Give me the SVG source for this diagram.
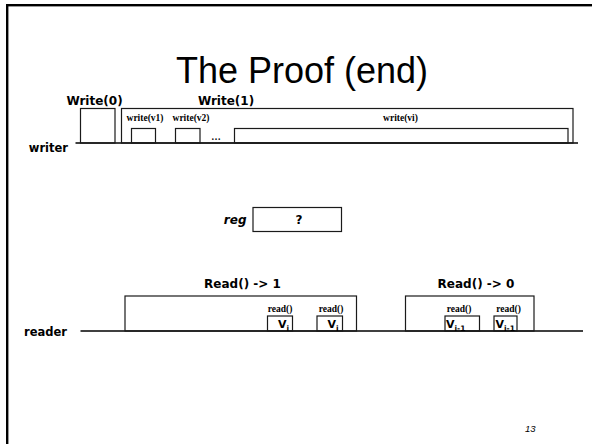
<svg xmlns="http://www.w3.org/2000/svg" width="592" height="444" viewBox="0 0 592 444">
<style>
.box{fill:none;stroke:#1a1a1a;stroke-width:1.2}
.line{stroke:#000;stroke-width:1.3}
.lbl{font-family:"DejaVu Sans",Verdana,sans-serif;font-weight:bold;font-size:12px;fill:#000}
.proc{font-family:"DejaVu Sans",Verdana,sans-serif;font-weight:bold;font-size:11.5px;fill:#000}
.op{font-family:"Liberation Serif","Times New Roman",serif;font-weight:bold;font-size:9.5px;fill:#000}
.v{font-family:"DejaVu Sans",Verdana,sans-serif;font-weight:bold;font-size:11px;fill:#000}
.sub{font-size:7.5px}
</style>
<rect x="7.2" y="5.2" width="620" height="460" fill="#fff" stroke="#000" stroke-width="2.4"/>
<text x="302" y="83" text-anchor="middle" font-family="'Liberation Sans',Arial,sans-serif" font-size="36" fill="#000">The Proof (end)</text>

<g id="timelines">
<line class="line" x1="75.5" y1="143" x2="578" y2="143"/>
<line class="line" x1="80.5" y1="331" x2="583" y2="331"/>
</g>

<g id="writer">
<text class="proc" x="68" y="152" text-anchor="end">writer</text>
</g>
<g id="write0">
<rect class="box" x="80.5" y="108.5" width="34.5" height="34.5"/>
<text class="lbl" x="94.5" y="105" text-anchor="middle">Write(0)</text>
</g>
<g id="write1">
<rect class="box" x="121.5" y="108.5" width="451.5" height="34.5"/>
<text class="lbl" x="226" y="105" text-anchor="middle">Write(1)</text>
</g>
<g id="writev1">
<rect class="box" x="131.5" y="128.5" width="24" height="14.5"/>
<text class="op" x="145" y="120.5" text-anchor="middle">write(v1)</text>
</g>
<g id="writev2">
<rect class="box" x="175.5" y="128.5" width="24.5" height="14.5"/>
<text class="op" x="191" y="120.5" text-anchor="middle">write(v2)</text>
</g>
<text class="op" x="216" y="140" text-anchor="middle">…</text>
<g id="writevi">
<rect class="box" x="234.5" y="128.5" width="333.5" height="14.5"/>
<text class="op" x="400.5" y="120.5" text-anchor="middle">write(vi)</text>
</g>

<g id="reg">
<text class="lbl" x="246.5" y="224" text-anchor="end" font-style="italic">reg</text>
<rect class="box" x="253" y="207.5" width="88.5" height="24"/>
<text class="lbl" x="299" y="224" text-anchor="middle">?</text>
</g>

<g id="reader">
<text class="proc" x="67" y="336" text-anchor="end">reader</text>
</g>
<g id="read1">
<rect class="box" x="125" y="296" width="231.5" height="35"/>
<text class="lbl" x="242.5" y="288" text-anchor="middle">Read() -&gt; 1</text>
</g>
<g id="read1a">
<rect class="box" x="267.5" y="316" width="25" height="15"/>
<text class="op" x="280" y="312" text-anchor="middle">read()</text>
<text class="v" x="278" y="328">V<tspan class="sub" dy="3">i</tspan></text>
</g>
<g id="read1b">
<rect class="box" x="317" y="316" width="25.5" height="15"/>
<text class="op" x="331" y="312" text-anchor="middle">read()</text>
<text class="v" x="327.5" y="328">V<tspan class="sub" dy="3">i</tspan></text>
</g>
<g id="read0">
<rect class="box" x="405.5" y="296" width="128.5" height="35"/>
<text class="lbl" x="476" y="288" text-anchor="middle">Read() -&gt; 0</text>
</g>
<g id="read0a">
<rect class="box" x="445" y="316" width="34.5" height="15"/>
<text class="op" x="459" y="312" text-anchor="middle">read()</text>
<text class="v" x="446" y="328">V<tspan class="sub" dy="3">i-1</tspan></text>
</g>
<g id="read0b">
<rect class="box" x="494" y="316" width="23" height="15"/>
<text class="op" x="508.5" y="312" text-anchor="middle">read()</text>
<text class="v" x="495.5" y="328">V<tspan class="sub" dy="3">i-1</tspan></text>
</g>

<text x="535.5" y="431.5" text-anchor="end" font-family="'Liberation Sans',Arial,sans-serif" font-style="italic" font-size="9.5" fill="#000">13</text>
</svg>
